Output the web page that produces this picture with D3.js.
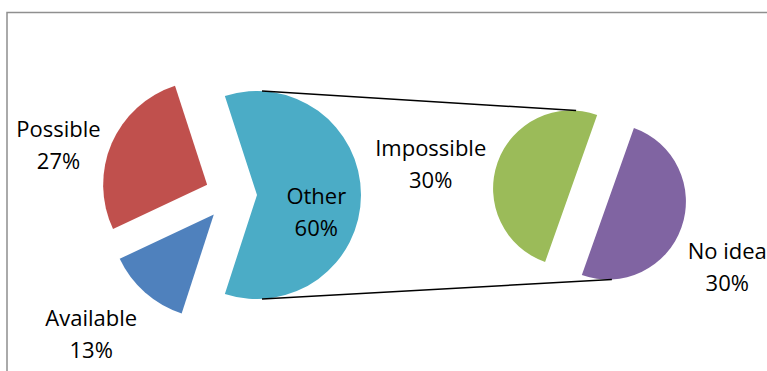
<!DOCTYPE html>
<html>
<head>
<meta charset="utf-8">
<script src="https://cdn.jsdelivr.net/npm/d3@7"></script>
<style>
  body { margin: 0; background: #fff; }
  text { font-family: "Open Sans", sans-serif; font-size: 22px; fill: #000; }
</style>
</head>
<body>
<script>
// data: first pie (Other is split out into the second pie)
var mainCats = ["Other", "Available", "Possible"];
var mainVals = [60, 13, 27];
var mainColors = ["#4BACC6", "#4F81BD", "#C0504D"];

// data: second pie
var subCats = ["No idea", "Impossible"];
var subVals = [30, 30];
var subColors = ["#8064A2", "#9BBB59"];

var width = 767, height = 371;

var svg = d3.select("body").append("svg")
    .attr("width", width)
    .attr("height", height);

// chart frame (runs off the right and bottom edge)
svg.append("rect")
    .attr("x", 7).attr("y", 12.5)
    .attr("width", 900).attr("height", 500)
    .attr("fill", "none")
    .attr("stroke", "#8f8f8f")
    .attr("stroke-width", 1.5);

var deg = Math.PI / 180;

var main = {cx: 231, cy: 195, r: 104, explode: 26};
var sub = {cx: 589.5, cy: 195, r: 78, explode: 19.5};

// the split-out slice faces the second pie
var mainTotal = d3.sum(mainVals);
var mainPie = d3.pie().sort(null)
    .startAngle(Math.PI / 2 - mainVals[0] / mainTotal * Math.PI);
mainPie.endAngle(mainPie.startAngle()() + 2 * Math.PI);
var subPie = d3.pie().sort(null)
    .startAngle(19.5 * deg)
    .endAngle(19.5 * deg + 2 * Math.PI);

var mainArcs = mainPie(mainVals);
var subArcs = subPie(subVals);

function midDir(a) {
    var m = (a.startAngle + a.endAngle) / 2;
    return [Math.sin(m), -Math.cos(m)];
}

function drawPie(arcs, p, cats, colors) {
    var color = d3.scaleOrdinal().domain(cats).range(colors);
    var arc = d3.arc().innerRadius(0).outerRadius(p.r);
    var out = [];
    arcs.forEach(function (a, i) {
        var d = midDir(a);
        var ox = p.cx + d[0] * p.explode,
            oy = p.cy + d[1] * p.explode;
        svg.append("path")
            .attr("transform", "translate(" + ox + "," + oy + ")")
            .attr("d", arc(a))
            .attr("fill", color(cats[i]));
        out.push({arc: a, cat: cats[i], x: ox, y: oy, dir: d, r: p.r});
    });
    return out;
}

var mainSlices = drawPie(mainArcs, main, mainCats, mainColors);
var subSlices = drawPie(subArcs, sub, subCats, subColors);

// connector lines
var other = mainSlices[0], noIdea = subSlices[0], imposs = subSlices[1];
svg.append("line")
    .attr("x1", other.x + 5).attr("y1", other.y - other.r)
    .attr("x2", imposs.x + 5).attr("y2", imposs.y - imposs.r)
    .attr("stroke", "#000").attr("stroke-width", 1.5);
svg.append("line")
    .attr("x1", other.x + 5).attr("y1", other.y + other.r)
    .attr("x2", noIdea.x + 4).attr("y2", noIdea.y + noIdea.r)
    .attr("stroke", "#000").attr("stroke-width", 1.5);

var capH = 16, lineGap = 32;

function twoLine(x, firstBase, s) {
    var t = svg.append("text")
        .attr("text-anchor", "middle");
    t.append("tspan").attr("x", x).attr("y", firstBase).text(s.cat);
    t.append("tspan").attr("x", x).attr("y", firstBase + lineGap)
        .text(s.arc.value + "%");
    return t;
}

// labels outside the slice end
function outsideLabel(s) {
    var ax = s.x + s.dir[0] * (s.r + 12),
        ay = s.y + s.dir[1] * (s.r + 12);
    var t = twoLine(0, 0, s);
    var w = t.node().getBBox().width;
    var cx = s.dir[0] < 0 ? ax - w / 2 : ax + w / 2 - 5;
    var base = s.dir[1] < 0
        ? ay + 6 - (capH + lineGap) / 2 + capH
        : ay + 8 + capH + (s.dir[0] > 0 ? 3 : 0);
    t.selectAll("tspan").attr("x", cx)
        .attr("y", function (d, i) { return base + i * lineGap; });
}

outsideLabel(mainSlices[1]);
outsideLabel(mainSlices[2]);
outsideLabel(subSlices[0]);
outsideLabel(subSlices[1]);

// the big slice gets its label inside
var ic = d3.arc().innerRadius(0).outerRadius(other.r * 1.14).centroid(other.arc);
twoLine(other.x + ic[0], other.y + ic[1] + 17 - (capH + lineGap) / 2 + capH, other);
</script>
</body>
</html>
